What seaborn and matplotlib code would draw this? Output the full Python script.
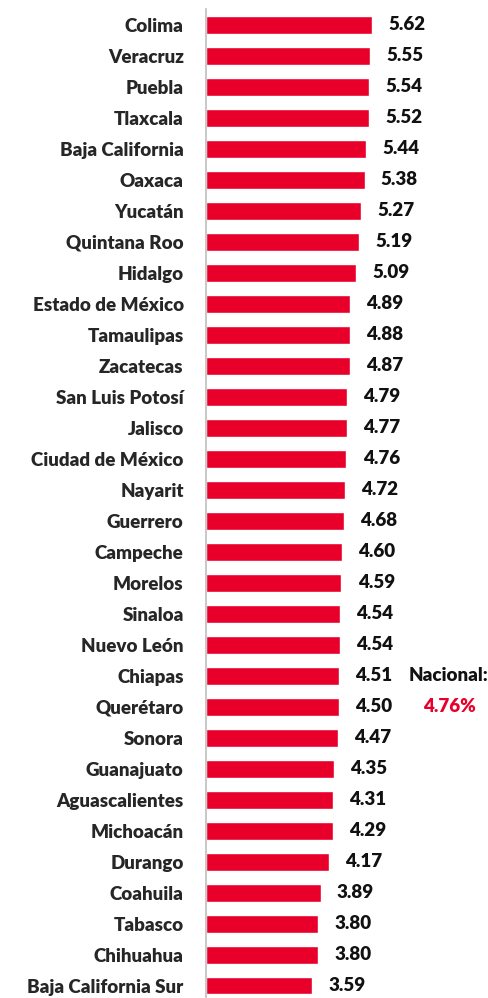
import matplotlib
matplotlib.use("Agg")
import matplotlib.pyplot as plt
import seaborn as sns
import pandas as pd
import numpy as np

# data
estados = ["Colima", "Veracruz", "Puebla", "Tlaxcala", "Baja California", "Oaxaca", "Yucatán",
           "Quintana Roo", "Hidalgo", "Estado de México", "Tamaulipas", "Zacatecas",
           "San Luis Potosí", "Jalisco", "Ciudad de México", "Nayarit", "Guerrero", "Campeche",
           "Morelos", "Sinaloa", "Nuevo León", "Chiapas", "Querétaro", "Sonora", "Guanajuato",
           "Aguascalientes", "Michoacán", "Durango", "Coahuila", "Tabasco", "Chihuahua",
           "Baja California Sur"]
valores = [5.62, 5.55, 5.54, 5.52, 5.44, 5.38, 5.27, 5.19, 5.09, 4.89, 4.88, 4.87, 4.79, 4.77,
           4.76, 4.72, 4.68, 4.60, 4.59, 4.54, 4.54, 4.51, 4.50, 4.47, 4.35, 4.31, 4.29, 4.17,
           3.89, 3.80, 3.80, 3.59]
nacional = 4.76

df = pd.DataFrame({"estado": estados, "valor": valores})

sns.set_style("white")
plt.rcParams["font.family"] = ["Lato", "DejaVu Sans"]

fig = plt.figure(figsize=(4.88, 9.98), dpi=100)
ax = fig.add_axes([0.422, -0.003, 0.578, 0.9935])

rojo = "#E8002B"
fs = 13.5
peso = "heavy"
sns.barplot(data=df, x="valor", y="estado", color=rojo, saturation=1, width=0.58, ax=ax)

for i, v in enumerate(valores):
    ax.text(v + 0.55, i, f"{v:.2f}", va="center", ha="left", fontsize=fs, fontweight=peso, color="#111111")

ax.set_xlim(0, 9.56)
ax.set_ylim(len(estados) - 0.5, -0.5)
ax.set_xlabel("")
ax.set_ylabel("")
ax.set_xticks([])
for s in ["top", "right", "bottom"]:
    ax.spines[s].set_visible(False)
ax.spines["left"].set_color("#BFBFBF")
ax.spines["left"].set_linewidth(1.2)
ax.tick_params(axis="y", which="major", length=0, pad=16, labelsize=fs)
for lab in ax.get_yticklabels():
    lab.set_fontweight(peso)
ax.set_yticks(np.arange(len(estados) + 1) - 0.5, minor=True)
ax.tick_params(axis="y", which="minor", length=5, color="#BFBFBF", width=1.2)

# nacional annotation
ax.text(9.56, 21, "Nacional:", ha="right", va="center", fontsize=fs, fontweight=peso, color="#111111")
ax.text(8.25, 22, f"{nacional:.2f}%", ha="center", va="center", fontsize=fs, fontweight=peso, color=rojo)

fig.savefig("out.png", dpi=100)
